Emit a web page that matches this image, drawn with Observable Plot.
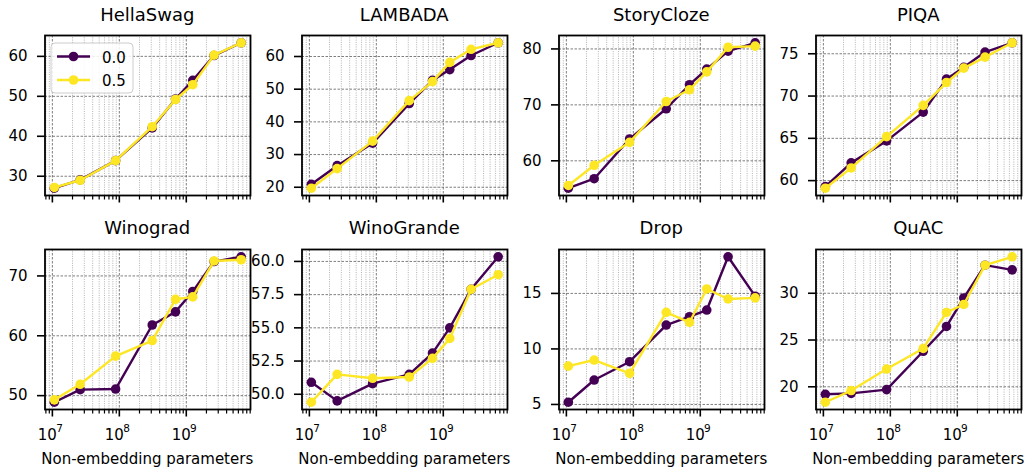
<!DOCTYPE html>
<html><head><meta charset="utf-8">
<script src="https://cdn.jsdelivr.net/npm/d3@7"></script>
<script src="https://cdn.jsdelivr.net/npm/@observablehq/plot@0.6"></script>
<style>
body{margin:0;background:#fff;font-family:"DejaVu Sans",sans-serif;}
#root{position:relative;width:1028px;height:471px;overflow:hidden;background:#fff;}
.panel{position:absolute;}
.title{position:absolute;font-size:18px;line-height:18px;font-weight:normal;text-align:center;color:#000;white-space:nowrap;}
.xlabel{position:absolute;font-size:15px;line-height:15px;text-align:center;color:#000;white-space:nowrap;}
</style></head><body><div id="root"></div>
<script>
// model sizes (non-embedding parameters)
const params = [1.07e7, 2.6e7, 8.8e7, 3.1e8, 6.9e8, 1.25e9, 2.6e9, 6.6e9];
const seriesNames = ["0.0", "0.5"];
const seriesColors = ["#440154", "#fde725"];
const tasks = ["HellaSwag", "LAMBADA", "StoryCloze", "PIQA", "Winograd", "WinoGrande", "Drop", "QuAC"];

const hellaswag00 = [27.0, 29.1, 33.9, 42.1, 49.3, 54.0, 60.2, 63.4];
const hellaswag05 = [27.2, 29.0, 33.9, 42.4, 49.2, 52.9, 60.3, 63.4];
const lambada00 = [20.9, 26.6, 33.5, 45.6, 52.7, 56.0, 60.3, 64.2];
const lambada05 = [19.7, 25.7, 34.1, 46.5, 52.3, 58.2, 62.2, 64.2];
const storycloze00 = [55.1, 56.8, 63.9, 69.3, 73.6, 76.4, 79.6, 81.1];
const storycloze05 = [55.6, 59.2, 63.3, 70.6, 72.7, 75.9, 80.3, 80.5];
const piqa00 = [59.3, 62.1, 64.7, 68.1, 72.0, 73.4, 75.2, 76.3];
const piqa05 = [59.1, 61.5, 65.2, 68.9, 71.6, 73.3, 74.6, 76.3];
const winograd00 = [48.9, 51.0, 51.1, 61.8, 64.0, 67.4, 72.4, 73.2];
const winograd05 = [49.3, 51.9, 56.6, 59.2, 66.1, 66.5, 72.5, 72.7];
const winogrande00 = [50.9, 49.5, 50.8, 51.5, 53.1, 55.0, 57.9, 60.35];
const winogrande05 = [49.4, 51.5, 51.2, 51.3, 52.7, 54.2, 57.9, 59.0];
const drop00 = [5.2, 7.2, 8.85, 12.15, 12.9, 13.5, 18.3, 14.75];
const drop05 = [8.45, 9.0, 7.8, 13.3, 12.4, 15.4, 14.5, 14.6];
const quac00 = [19.2, 19.3, 19.7, 23.8, 26.45, 29.5, 33.0, 32.5];
const quac05 = [18.35, 19.6, 21.9, 24.1, 27.95, 28.8, 33.0, 33.9];

const xMajorTicks = [1e7, 1e8, 1e9];
const xTickBase = "10";
const xTickExponents = ["7", "8", "9"];
const yTicksList = [
  [30, 40, 50, 60],
  [20, 30, 40, 50, 60],
  [60, 70, 80],
  [60, 65, 70, 75],
  [50, 60, 70],
  [50, 52.5, 55, 57.5, 60],
  [5, 10, 15],
  [20, 25, 30]
];
const yTickDecimals = [0, 0, 0, 0, 0, 1, 0, 0];

const series00 = [hellaswag00, lambada00, storycloze00, piqa00, winograd00, winogrande00, drop00, quac00];
const series05 = [hellaswag05, lambada05, storycloze05, piqa05, winograd05, winogrande05, drop05, quac05];

// layout
const W = 257, H = 240, ML = 44.5, MR = 7, MT = 35, MB = 45;
const frameW = W - ML - MR, frameH = H - MT - MB;
const rowTop = [0, 214];
const titleBaseline = [20.8, 234];

// x domain: log extent padded by 5% (matplotlib style)
const lx = d3.extent(params).map(Math.log10);
const lpad = (lx[1] - lx[0]) * 0.05;
const xDomain = [Math.pow(10, lx[0] - lpad), Math.pow(10, lx[1] + lpad)];
const minorTicks = [];
for (let e = 6; e <= 9; e++) for (let m = 2; m <= 9; m++) {
  const v = m * Math.pow(10, e);
  if (v >= xDomain[0] && v <= xDomain[1]) minorTicks.push(v);
}

const root = document.getElementById("root");

tasks.forEach((task, i) => {
  const row = Math.floor(i / 4), col = i % 4;
  const s0 = series00[i], s1 = series05[i];
  const d0 = params.map((p, j) => ({p, v: s0[j]}));
  const d1 = params.map((p, j) => ({p, v: s1[j]}));
  const ext = d3.extent(s0.concat(s1));
  const pad = (ext[1] - ext[0]) * 0.05;
  const yDomain = [ext[0] - pad, ext[1] + pad];
  const yt = yTicksList[i];
  const dec = yTickDecimals[i];
  const gridMajor = {stroke: "#5e5e5e", strokeOpacity: 1, strokeWidth: 0.8, strokeDasharray: "2.5,1.5"};
  const gridMinor = {stroke: "#9a9a9a", strokeOpacity: 1, strokeWidth: 0.75, strokeDasharray: "1,1.3"};

  const marks = [
    Plot.gridX(minorTicks, gridMinor),
    Plot.gridX(xMajorTicks, gridMajor),
    Plot.gridY(yt, gridMajor),
    Plot.line(d0, {x: "p", y: "v", stroke: seriesColors[0], strokeWidth: 2.4}),
    Plot.dot(d0, {x: "p", y: "v", fill: seriesColors[0], r: 4.8}),
    Plot.line(d1, {x: "p", y: "v", stroke: seriesColors[1], strokeWidth: 2.4}),
    Plot.dot(d1, {x: "p", y: "v", fill: seriesColors[1], r: 4.8}),
    Plot.axisX(minorTicks, {tickSize: 4.5, strokeWidth: 1.2, tickFormat: () => "", label: null}),
    Plot.axisX(xMajorTicks, {tickSize: 7.5, strokeWidth: 1.6, tickFormat: () => "", label: null}),
    Plot.axisY(yt, {tickSize: 7.5, tickPadding: 10, strokeWidth: 1.6, fontSize: 15,
      tickFormat: d => d.toFixed(dec), label: null}),
    Plot.frame({stroke: "#000", strokeWidth: 1.8})
  ];
  if (row === 1) {
    marks.push(
      Plot.text(xMajorTicks, {x: d => d, frameAnchor: "bottom", dy: 25.2, dx: -5, text: () => xTickBase,
        fontSize: 15, textAnchor: "middle", lineAnchor: "middle", fill: "#000"}),
      Plot.text(xMajorTicks, {x: d => d, frameAnchor: "bottom", dy: 18.8, dx: 3.8, text: (d, k) => xTickExponents[k],
        fontSize: 10.5, textAnchor: "start", lineAnchor: "middle", fill: "#000"})
    );
  }

  const chart = Plot.plot({
    width: W, height: H,
    marginLeft: ML, marginRight: MR, marginTop: MT, marginBottom: MB,
    style: {background: "transparent", overflow: "visible", fontFamily: "DejaVu Sans", fontSize: "15px", color: "#000"},
    x: {type: "log", domain: xDomain, label: null},
    y: {domain: yDomain, label: null},
    marks
  });
  const wrap = document.createElement("div");
  wrap.className = "panel";
  wrap.style.left = (col * 257) + "px";
  wrap.style.top = rowTop[row] + "px";
  wrap.appendChild(chart);
  root.appendChild(wrap);

  const t = document.createElement("div");
  t.className = "title";
  t.textContent = task;
  t.style.left = (col * 257 + ML) + "px";
  t.style.width = frameW + "px";
  t.style.top = (titleBaseline[row] - 15.2) + "px";
  root.appendChild(t);

  if (row === 1) {
    const xl = document.createElement("div");
    xl.className = "xlabel";
    xl.textContent = "Non-embedding parameters";
    xl.style.left = (col * 257 + ML - 40) + "px";
    xl.style.width = (frameW + 80) + "px";
    xl.style.top = (465 - 12.7) + "px";
    root.appendChild(xl);
  }
});

// legend (in the first panel)
const ns = "http://www.w3.org/2000/svg";
const lg = document.createElementNS(ns, "svg");
lg.setAttribute("width", 150); lg.setAttribute("height", 110);
lg.style.position = "absolute"; lg.style.left = "0px"; lg.style.top = "0px";
const box = document.createElementNS(ns, "rect");
box.setAttribute("x", 51); box.setAttribute("y", 43); box.setAttribute("width", 82); box.setAttribute("height", 50);
box.setAttribute("rx", 4); box.setAttribute("fill", "rgba(255,255,255,0.85)"); box.setAttribute("stroke", "#cccccc"); box.setAttribute("stroke-width", 1);
lg.appendChild(box);
seriesNames.forEach((name, k) => {
  const y = 56.5 + k * 23.5;
  const ln = document.createElementNS(ns, "line");
  ln.setAttribute("x1", 57); ln.setAttribute("x2", 90); ln.setAttribute("y1", y); ln.setAttribute("y2", y);
  ln.setAttribute("stroke", seriesColors[k]); ln.setAttribute("stroke-width", 2.4);
  lg.appendChild(ln);
  const c = document.createElementNS(ns, "circle");
  c.setAttribute("cx", 73.5); c.setAttribute("cy", y); c.setAttribute("r", 4.8); c.setAttribute("fill", seriesColors[k]);
  lg.appendChild(c);
  const tx = document.createElementNS(ns, "text");
  tx.setAttribute("x", 102); tx.setAttribute("y", y + 6);
  tx.setAttribute("font-family", "DejaVu Sans"); tx.setAttribute("font-size", 15); tx.setAttribute("fill", "#000");
  tx.textContent = name;
  lg.appendChild(tx);
});
root.appendChild(lg);
</script>
</body></html>
